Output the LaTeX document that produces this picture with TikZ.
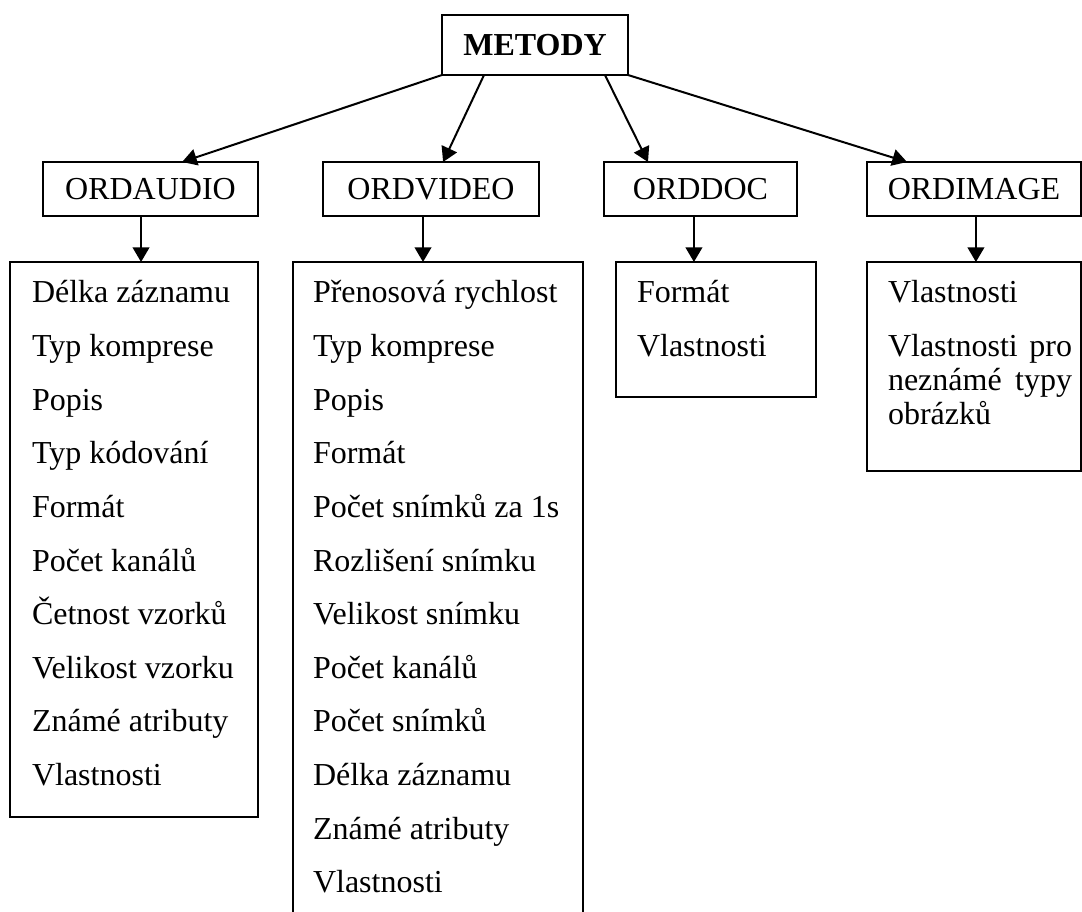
\documentclass[tikz,border=0pt]{standalone}
\usepackage{fontspec}
\setmainfont{Liberation Serif}
\usetikzlibrary{arrows.meta,calc}
\begin{document}
\begin{tikzpicture}[x=0.75pt,y=-0.75pt,
  box/.style={draw, line width=1.5pt, inner sep=0pt, outer sep=0pt, rectangle},
  hdr/.style={box, minimum height=54*0.75pt, font=\fontsize{24}{28}\selectfont},
  txt/.style={anchor=base west, inner sep=0pt, outer sep=0pt, font=\fontsize{24}{28}\selectfont},
  arr/.style={line width=1.5pt, -{Triangle[length=11pt,width=12.5pt]}}]
\useasboundingbox (0,0) rectangle (1082,912);
\fill[white] (0,0) rectangle (1082,912);
\clip (0,0) rectangle (1082,912);
% top
\node[box, minimum width=186*0.75pt, minimum height=60*0.75pt, font=\bfseries\fontsize{24}{28}\selectfont] (m) at (535,45) {METODY};
% headers
\node[hdr, minimum width=215*0.75pt] (oa) at (150.5,189) {ORDAUDIO};
\node[hdr, minimum width=216*0.75pt] (ov) at (431,189) {ORDVIDEO};
\node[hdr, minimum width=193*0.75pt] (od) at (700.5,189) {ORDDOC};
\node[hdr, minimum width=214*0.75pt] (oi) at (974,189) {ORDIMAGE};
% list boxes
\node[box, minimum width=248*0.75pt, minimum height=555*0.75pt] (la) at (134,539.5) {};
\node[box, minimum width=290*0.75pt, minimum height=668*0.75pt] (lv) at (438,596) {};
\node[box, minimum width=200*0.75pt, minimum height=135*0.75pt] (ld) at (716,329.5) {};
\node[box, minimum width=214*0.75pt, minimum height=209*0.75pt] (li) at (974,366.5) {};
% arrows from METODY
\draw[arr] (m.south west) -- ($(oa.north west)!0.647!(oa.north east)$);
\draw[arr] ($(m.south west)!0.226!(m.south east)$) -- ($(ov.north west)!0.556!(ov.north east)$);
\draw[arr] ($(m.south west)!0.876!(m.south east)$) -- ($(od.north west)!0.228!(od.north east)$);
\draw[arr] (m.south east) -- ($(oi.north west)!0.187!(oi.north east)$);
% down arrows
\draw[arr] ($(oa.south west)!0.456!(oa.south east)$) coordinate (da) -- (da |- la.north);
\draw[arr] ($(ov.south west)!0.463!(ov.south east)$) coordinate (dv) -- (dv |- lv.north);
\draw[arr] ($(od.south west)!0.466!(od.south east)$) coordinate (dd) -- (dd |- ld.north);
\draw[arr] ($(oi.south west)!0.509!(oi.south east)$) coordinate (di) -- (di |- li.north);
% audio items
\foreach \t [count=\i] in {Délka záznamu, Typ komprese, Popis, Typ kódování, Formát, Počet kanálů, Četnost vzorků, Velikost vzorku, Známé atributy, Vlastnosti}
  \node[txt] (a\i) at (32,{303+53.6*(\i-1)}) {\t};
% video items
\foreach \t [count=\i] in {Přenosová rychlost, Typ komprese, Popis, Formát, Počet snímků za 1s, Rozlišení snímku, Velikost snímku, Počet kanálů, Počet snímků, Délka záznamu, Známé atributy, Vlastnosti}
  \node[txt] (v\i) at (313,{303+53.6*(\i-1)}) {\t};
% doc items
\node[txt] (d1) at (637,303) {Formát};
\node[txt] (d2) at (637,357) {Vlastnosti};
% image items
\node[txt] (i1) at (888,303) {Vlastnosti};
\node[txt] (i2) at (888,357) {\makebox[138pt][s]{Vlastnosti pro}};
\node[txt] (i3) at (888,391) {\makebox[138pt][s]{neznámé typy}};
\node[txt] (i4) at (888,425) {obrázků};
\end{tikzpicture}
\end{document}
